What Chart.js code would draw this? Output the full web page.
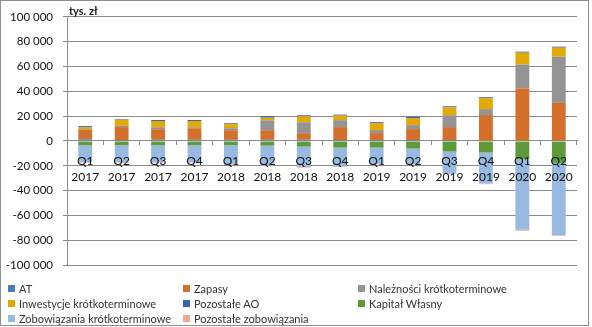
<!DOCTYPE html>
<html>
<head>
<meta charset="utf-8">
<script src="https://cdn.jsdelivr.net/npm/chart.js@4"></script>
<style>
  body { margin: 0; background: #fff; font-family: Lato, sans-serif; }
  #frame { position: absolute; left: 0; top: 0; width: 589px; height: 326px; box-sizing: border-box; border: 1px solid #8c8c8c; }
  #box { position: absolute; left: 0; top: 0; width: 592px; height: 282px; }
  #unit { position: absolute; left: 69px; top: 4px; font-size: 11px; font-weight: bold; color: #222; }
  #legend { position: absolute; left: 8px; top: 281px; display: grid; grid-template-columns: 175px 175px 200px; row-gap: 1px; font-size: 11px; color: #333; }
  #legend div { display: flex; align-items: center; height: 14px; }
  #legend span { display: inline-block; width: 7px; height: 7px; margin-right: 4px; }
</style>
</head>
<body>
<div id="frame"></div>
<div id="box"><canvas id="chart"></canvas></div>
<div id="unit">tys. zł</div>
<div id="legend"></div>
<script>
const quarters = ["Q1", "Q2", "Q3", "Q4", "Q1", "Q2", "Q3", "Q4", "Q1", "Q2", "Q3", "Q4", "Q1", "Q2"];
const years = ["2017", "2017", "2017", "2017", "2018", "2018", "2018", "2018", "2019", "2019", "2019", "2019", "2020", "2020"];

const at = [1300, 800, 1000, 1000, 1000, 1000, 1000, 800, 800, 800, 800, 400, 300, 300];
const zapasy = [7800, 10400, 8500, 9300, 7700, 7700, 5300, 10400, 5600, 8800, 10400, 20500, 42100, 30400];
const naleznosci = [600, 1000, 1600, 800, 1600, 8000, 8800, 5600, 2400, 3200, 9600, 4800, 19200, 37300];
const inwestycje = [1500, 4800, 5000, 5000, 3200, 2100, 4800, 3700, 5600, 5600, 6400, 8800, 9600, 7200];
const pozostaleAO = [800, 500, 800, 800, 800, 1300, 800, 800, 800, 1100, 800, 800, 800, 800];
const kapital = [-3500, -3500, -3500, -3500, -3500, -3700, -4500, -5300, -5300, -6100, -8500, -9300, -14700, -17600];
const zobowiazania = [-13500, -13500, -13500, -13500, -15000, -15800, -16500, -15200, -13200, -12400, -17700, -25000, -56800, -58400];
const pozostaleZob = [-500, -500, -500, -500, -500, -500, -500, -500, -300, -400, -300, -500, -800, -500];

const series = [
    { label: "AT", data: at, color: "#4a7ebb" },
    { label: "Zapasy", data: zapasy, color: "#d4702b" },
    { label: "Należności krótkoterminowe", data: naleznosci, color: "#949494" },
    { label: "Inwestycje krótkoterminowe", data: inwestycje, color: "#e2a900" },
    { label: "Pozostałe AO", data: pozostaleAO, color: "#3a64b0" },
    { label: "Kapitał Własny", data: kapital, color: "#5e9a3a" },
    { label: "Zobowiązania krótkoterminowe", data: zobowiazania, color: "#98b9e0" },
    { label: "Pozostałe zobowiązania", data: pozostaleZob, color: "#f4a78c" }
];

function fmt(v) {
    const s = Math.abs(v).toString().replace(/\B(?=(\d{3})+(?!\d))/g, " ");
    return (v < 0 ? "-" : "") + s;
}

new Chart(document.getElementById("chart"), {
    type: "bar",
    data: {
        labels: quarters.map((q, i) => [q, years[i]]),
        datasets: series.map(s => ({
            label: s.label,
            data: s.data,
            backgroundColor: s.color,
            barPercentage: 0.38,
            categoryPercentage: 1
        }))
    },
    options: {
        responsive: true,
        maintainAspectRatio: false,
        animation: false,
        layout: { padding: { top: 10, right: 15, left: 0, bottom: 5 } },
        plugins: { legend: { display: false }, tooltip: { enabled: false } },
        scales: {
            x: {
                stacked: true,
                position: { y: 0 },
                grid: { drawOnChartArea: false, tickLength: 4, color: "#8a8a8a" },
                border: { color: "#8a8a8a" },
                ticks: { z: 1, padding: 8, color: "#111", font: { family: "Lato", size: 12, lineHeight: 1.35 }, maxRotation: 0 }
            },
            y: {
                stacked: true,
                min: -100000,
                max: 100000,
                afterFit: s => { s.width = 67; },
                grid: { color: "#8a8a8a", tickLength: 4 },
                border: { color: "#8a8a8a" },
                ticks: { stepSize: 20000, padding: 10, color: "#111", font: { family: "Lato", size: 11.5 }, callback: v => fmt(v) }
            }
        }
    }
});

const legend = document.getElementById("legend");
series.forEach(s => {
    const item = document.createElement("div");
    item.innerHTML = `<span style="background:${s.color}"></span>${s.label}`;
    legend.appendChild(item);
});
</script>
</body>
</html>
